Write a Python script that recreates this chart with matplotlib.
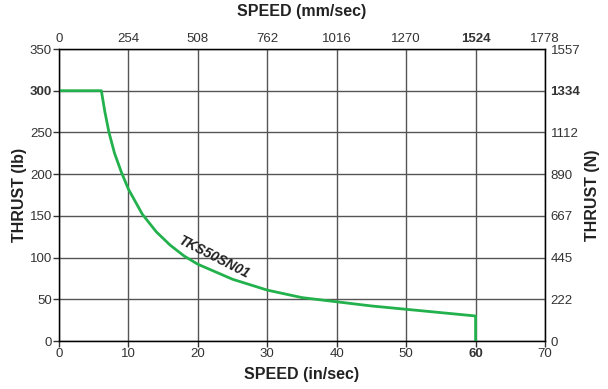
import matplotlib
matplotlib.use("Agg")
import matplotlib.pyplot as plt
from matplotlib import font_manager

# ---- data ----
speed_in = [0, 6.1, 6.6, 7.2, 8, 9, 10, 12, 14, 16, 18, 20, 25, 30, 35, 40, 45, 50, 55, 60, 60]
thrust_lb = [300, 300, 275, 250, 225, 202, 182, 152, 131, 115, 102, 92, 74, 61, 52, 47, 42, 38, 34, 30, 0]

x_ticks = [0, 10, 20, 30, 40, 50, 60, 70]
x_top_labels = ["0", "254", "508", "762", "1016", "1270", "1524", "1778"]
y_ticks = [0, 50, 100, 150, 200, 250, 300, 350]
y_right_labels = ["0", "222", "445", "667", "890", "1112", "1334", "1557"]
series_name = "TKS50SN01"

avail = {f.name for f in font_manager.fontManager.ttflist}
fam = "Liberation Sans Narrow" if "Liberation Sans Narrow" in avail else "Liberation Sans"
plt.rcParams['font.family'] = [fam, 'DejaVu Sans']
narrow = fam == "Liberation Sans Narrow"
tsz = 11 if narrow else 9.5

fig = plt.figure(figsize=(6.08, 3.89), dpi=100)
ax = fig.add_axes([59/608, 1-341/389, (545-59)/608, (341-49)/389])

ax.set_xlim(0, 70)
ax.set_ylim(0, 350)

ax.set_xticks(x_ticks)
ax.set_yticks(y_ticks)
ax.set_xticklabels([str(v) for v in x_ticks])
ax.set_yticklabels([str(v) for v in y_ticks])
ax.grid(True, color="#555555", linewidth=1.0, zorder=0)
ax.set_axisbelow(True)
for s in ax.spines.values():
    s.set_color("#333333")
    s.set_linewidth(1.0)
ax.tick_params(axis='both', labelsize=tsz, length=4, width=1, color="#333333",
               pad=1, labelcolor="#333333")

for lab in ax.get_xticklabels():
    if lab.get_text() == "60":
        lab.set_fontweight("bold")
for lab in ax.get_yticklabels():
    if lab.get_text() == "300":
        lab.set_fontweight("bold")

# top axis
axt = ax.twiny()
axt.set_xlim(0, 70)
axt.set_xticks(x_ticks)
axt.set_xticklabels(x_top_labels)
axt.tick_params(axis='x', labelsize=tsz, length=0, pad=3, labelcolor="#333333")
for lab in axt.get_xticklabels():
    if lab.get_text() == "1524":
        lab.set_fontweight("bold")
axt.set_xlabel("SPEED (mm/sec)", fontsize=11.5, fontweight="bold", labelpad=12, color="#222222")

# right axis
axr = ax.twinx()
axr.set_ylim(0, 350)
axr.set_yticks(y_ticks)
axr.set_yticklabels(y_right_labels)
axr.tick_params(axis='y', labelsize=tsz, length=0, pad=4, labelcolor="#333333")
for lab in axr.get_yticklabels():
    if lab.get_text() == "1334":
        lab.set_fontweight("bold")
axr.set_ylabel("THRUST (N)", fontsize=11.5, fontweight="bold", labelpad=3, color="#222222")

ax.set_xlabel("SPEED (in/sec)", fontsize=11.5, fontweight="bold", labelpad=5, color="#222222")
ax.set_ylabel("THRUST (lb)", fontsize=11.5, fontweight="bold", labelpad=2, color="#222222")

for a in (axt, axr):
    a.patch.set_alpha(0)

ax.plot(speed_in, thrust_lb, color="#22b14c", linewidth=2.0, zorder=5)
ax.text(22.2, 101, series_name, rotation=-27, fontsize=10, fontweight="bold",
        style="italic", ha="center", va="center", color="#222222", zorder=6)

fig.savefig("out.png", dpi=100)
